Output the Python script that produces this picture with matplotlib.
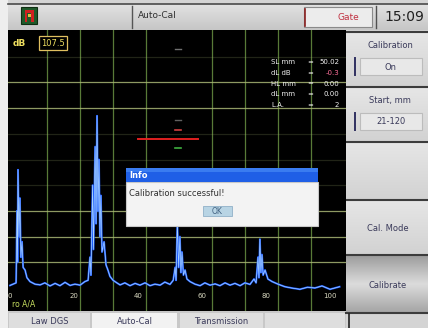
import numpy as np
import matplotlib
matplotlib.use("Agg")
import matplotlib.pyplot as plt
from matplotlib.patches import Rectangle

W, H = 428, 328

# A-scan trace: sound path (mm) and echo amplitude (% of screen height)
trace_mm = [0, 1.9, 2.2, 2.35, 2.5, 2.8, 3.1, 3.4, 3.75, 4.1, 4.7, 5.3, 6.25, 7.8,
            9.4, 10.9, 12.5, 14.1, 15.6, 17.2, 18.75, 20.3, 21.9, 23.4,
            24.4, 25.0, 25.3, 25.8, 26.1, 26.6, 26.9, 27.2, 27.5, 27.8, 28.1, 28.4,
            28.75, 29.4, 30.0, 30.6, 31.25, 32.2, 33.4, 34.4,
            35.9, 37.5, 39.1, 40.6, 42.2, 43.75, 45.3, 46.9, 48.4, 50.0, 51.0,
            51.6, 51.9, 52.3, 52.7, 53.1, 53.4, 53.75, 54.2, 54.7, 55.3, 56.25, 57.8,
            59.4, 60.9, 62.5, 64.1, 65.6, 67.2, 68.75, 70.3, 71.9, 73.4, 75.0, 76.25,
            76.9, 77.5, 77.8, 78.1, 78.4, 78.75, 79.1, 79.7, 80.6, 81.9, 83.75, 85.9,
            88.0, 90.6, 93.0, 95.3, 97.5, 100.0, 103.0]
trace_amp = [1.0, 2.0, 30, 10, 46, 20, 35, 12, 18, 8, 7, 4, 2.5, 1.5,
             1.2, 2.0, 0.8, 1.8, 0.9, 2.2, 1.0, 1.5, 1.1, 2.5,
             3, 12, 5, 40, 15, 55, 25, 67, 30, 50, 20, 36,
             14, 18, 9, 7, 4.5, 3, 2, 1.2,
             2.0, 0.9, 1.8, 1.1, 2.0, 0.9, 1.5, 1.1, 2.3, 1.4, 3,
             8, 3, 26, 8, 20, 6, 14, 5, 7, 3.5, 2.5, 1.5,
             0.9, 2.0, 1.1, 1.6, 0.9, 2.0, 1.1, 1.8, 0.9, 2.0, 1.4, 3.5,
             2, 12, 4, 19, 6, 13, 5, 7, 3.5, 2.5, 1.5, 0.5,
             0.0, -0.5, 0.3, 0.0, 0.8, -0.5, 0.5]

x_ticks = [0, 20, 40, 60, 80, 100]
x_tick_labels = ["0", "20", "40", "60", "80", "100"]

# evaluation gate and depth cursor
gate_start, gate_end, gate_level = 40.0, 58.75, 58
cursor_mm = 52.5

readout_names = ["SL mm", "dL dB", "HL mm", "dL mm", "L.A."]
readout_values = ["50.02", "-0.3", "0.00", "0.00", "2"]

gain_db = "107.5"
clock = "15:09"
mode_title = "Auto-Cal"
status_box = "Gate"
probe_label = "ro A/A"

side_titles = ["Calibration", "Start, mm", "", "Cal. Mode", "Calibrate"]
side_values = ["On", "21-120", None, None, None]
bottom_buttons = ["Law DGS", "Auto-Cal", "Transmission", ""]

dialog_title = "Info"
dialog_message = "Calibration successful!"
dialog_button = "OK"

fig = plt.figure(figsize=(W / 100, H / 100), dpi=100)


def px_axes(x0, y0, x1, y1, **kw):
    return fig.add_axes([x0 / W, 1 - y1 / H, (x1 - x0) / W, (y1 - y0) / H], **kw)


# ---- chrome (background layer) ----
ui = px_axes(0, 0, W, H, zorder=0)
ui.set_xlim(0, W)
ui.set_ylim(H, 0)
ui.axis("off")


def rect(a, x0, y0, x1, y1, fc, ec="none", lw=0, z=1):
    a.add_patch(Rectangle((x0, y0), x1 - x0, y1 - y0, facecolor=fc,
                          edgecolor=ec, linewidth=lw, zorder=z))


def vgrad(a, x0, y0, x1, y1, top, mid, bottom, z=2):
    c = np.array([matplotlib.colors.to_rgb(top), matplotlib.colors.to_rgb(mid),
                  matplotlib.colors.to_rgb(bottom)])
    t = np.linspace(0, 1, 64)
    img = np.stack([np.interp(t, [0, 0.5, 1], c[:, j]) for j in range(3)], axis=-1)
    a.imshow(img[:, None, :], extent=(x0, x1, y1, y0), aspect="auto",
             interpolation="bilinear", zorder=z)


rect(ui, 0, 0, W, H, "#d4d4d4")
rect(ui, 0, 0, 8, H, "#eeeeee")
# top bar
vgrad(ui, 8, 4, W, 30, "#e2e2e2", "#d4d4d4", "#c6c6c6", z=1)
ui.plot([8, W], [3.5, 3.5], color="#4a4a4a", lw=1.2, zorder=2)
rect(ui, 21, 7, 37, 24, "#1f5a2a", ec="#0e2e12", lw=0.8, z=3)
rect(ui, 25, 10, 34, 13, "#d02020", z=4)
rect(ui, 25, 10, 27.5, 22, "#d02020", z=4)
rect(ui, 31.5, 10, 34, 22, "#d02020", z=4)
rect(ui, 28, 14, 31, 17, "#e0c040", z=4)
ui.plot([132, 132], [6, 28], color="#555555", lw=1.0, zorder=3)
ui.text(138, 16, mode_title, fontsize=6.5, color="#303030", va="center", zorder=4)
rect(ui, 304, 7, 372, 27, "#ececec", ec="#8a8a8a", lw=0.8, z=3)
ui.plot([305, 305], [9, 26], color="#8a2020", lw=1.2, zorder=4)
ui.text(348, 17, status_box, fontsize=6.5, color="#c03040", ha="center", va="center", zorder=4)
ui.plot([376, 376], [6, 28], color="#505050", lw=1.0, zorder=3)
ui.text(404, 17, clock, fontsize=10, color="#202020", ha="center", va="center", zorder=4)

# right soft-key panel
btn_edges = [32, 87, 142, 200, 255, 313]
for i, (t, v) in enumerate(zip(side_titles, side_values)):
    y0, y1 = btn_edges[i], btn_edges[i + 1]
    if i == 4:
        vgrad(ui, 346, y0, W, y1, "#9c9c9c", "#dcdcdc", "#a4a4a4", z=2)
    else:
        vgrad(ui, 346, y0, W, y1, "#e6e6e6", "#dcdcdc", "#d2d2d2", z=2)
    ui.plot([346, W], [y0, y0], color="#3c3c3c", lw=1.5, zorder=3)
    if v is None:
        ui.text(388, (y0 + y1) / 2 + 1, t, fontsize=6, color="#3a3a5a",
                ha="center", va="center", zorder=4)
    else:
        ui.text(390, y0 + 13, t, fontsize=6, color="#3a3a5a",
                ha="center", va="center", zorder=4)
        rect(ui, 360, y0 + 26, 422, y0 + 43, "#e8e8e8", ec="#bcbcbc", lw=0.8, z=3)
        ui.plot([355, 355], [y0 + 26, y0 + 43], color="#303060", lw=1.4, zorder=4)
        ui.text(391, y0 + 35, v, fontsize=6, color="#3a3a5a",
                ha="center", va="center", zorder=4)
ui.plot([346, W], [313, 313], color="#3c3c3c", lw=1.5, zorder=3)
ui.plot([349, 349], [314, H], color="#202020", lw=1.2, zorder=3)
ui.set_xlim(0, W)
ui.set_ylim(H, 0)

# bottom soft-key bar
rect(ui, 8, 311, 346, H, "#c8c8c8", z=2)
bottom_x = [(9, 90), (92, 177), (180, 263), (265, 345)]
for (x0, x1), label in zip(bottom_x, bottom_buttons):
    rect(ui, x0, 313, x1, H, "#f2f2f2" if label == "Auto-Cal" else "#dedede", z=3)
    ui.text((x0 + x1) / 2, 321, label, fontsize=6, color="#3a3a5a",
            ha="center", va="center", zorder=4)

# ---- A-scan display ----
ax = px_axes(8, 30, 346, 311, zorder=1)
ax.set_facecolor("black")
px_per_mm, px_zero = 3.2, 10
ax.set_xlim((8 - px_zero) / px_per_mm, (346 - px_zero) / px_per_mm)
px_per_pct, py_zero = 2.57, 288
ax.set_ylim((py_zero - 311) / px_per_pct, (py_zero - 30) / px_per_pct)
for s in ax.spines.values():
    s.set_visible(False)
ax.set_xticks([])
ax.set_yticks([])

for k in range(1, 10):
    if k == 5:
        continue
    xg = (14 + 33 * k - px_zero) / px_per_mm
    ax.axvline(xg, color="#6f9a45", lw=0.9, alpha=0.8, zorder=1)
for lvl in range(10, 100, 10):
    bright = lvl in (10, 20, 30, 70, 80)
    ax.axhline(lvl, color="#a8b574", lw=0.9, alpha=0.85 if bright else 0.2, zorder=1)

ax.plot(trace_mm, trace_amp, color="#1e5cff", lw=1.4, zorder=3)
ax.plot(trace_mm, trace_amp, color="#a8d4ff", lw=0.5, zorder=4)

# gate and cursor
ax.plot([gate_start, gate_end], [gate_level, gate_level], color="#e02020", lw=1.4, zorder=5)
ax.plot([cursor_mm - 0.9, cursor_mm + 0.9], [gate_level + 3.5, gate_level + 3.5],
        color="#d04040", lw=1.2, zorder=5)
ax.plot([cursor_mm - 0.9, cursor_mm + 0.9], [gate_level - 3.5, gate_level - 3.5],
        color="#40b040", lw=1.2, zorder=5)
ax.plot([cursor_mm - 0.9, cursor_mm + 0.9], [gate_level + 7.5, gate_level + 7.5],
        color="#606060", lw=1.0, zorder=5)
ax.plot([cursor_mm - 0.9, cursor_mm + 0.9], [93, 93], color="#707070", lw=1.0, zorder=5)

for xv, lab in zip(x_ticks, x_tick_labels):
    ax.text(xv, (py_zero - 296) / px_per_pct, lab, fontsize=5, color="#d8d8c0",
            ha="center", va="center", zorder=6)

# readouts
for i, (n, v) in enumerate(zip(readout_names, readout_values)):
    yv = (py_zero - (62 + 10.8 * i)) / px_per_pct
    ax.text((271 - px_zero) / px_per_mm, yv, n, fontsize=5, color="#f0f0f0",
            va="center", zorder=6)
    ax.text((307 - px_zero) / px_per_mm, yv, "=", fontsize=5, color="#f0f0f0",
            va="center", zorder=6)
    ax.text((339 - px_zero) / px_per_mm, yv, v, fontsize=5,
            color="#ff6f9a" if i == 1 else "#f0f0f0", ha="right", va="center", zorder=6)

ax.text((13 - px_zero) / px_per_mm, (py_zero - 43) / px_per_pct, "dB", fontsize=6.5,
        color="#f0e060", va="center", fontweight="bold", zorder=6)
ax.text((41 - px_zero) / px_per_mm, (py_zero - 43) / px_per_pct, gain_db, fontsize=6,
        color="#f0e060", va="center", zorder=6,
        bbox=dict(boxstyle="square,pad=0.25", fc="black", ec="#e0c060", lw=0.9))
ax.text((12 - px_zero) / px_per_mm, (py_zero - 304) / px_per_pct, probe_label,
        fontsize=5.5, color="#c8e060", va="center", zorder=6)

# ---- message dialog (top layer) ----
dl = px_axes(0, 0, W, H, zorder=3)
dl.set_xlim(0, W)
dl.set_ylim(H, 0)
dl.axis("off")
dl.patch.set_alpha(0)
rect(dl, 126, 182, 318, 226, "#f3f3f3", ec="#c8c8c8", lw=0.8, z=2)
rect(dl, 126, 168, 318, 182, "#1f5fe6", z=2)
rect(dl, 126, 168, 318, 172, "#3a7cf0", z=2)
dl.text(129, 175.5, dialog_title, fontsize=6, color="white", fontweight="bold",
        va="center", zorder=3)
dl.text(129, 193, dialog_message, fontsize=6, color="#303030", va="center", zorder=3)
rect(dl, 203, 206, 232, 216, "#b8d4e4", ec="#90b0c8", lw=0.6, z=2)
dl.text(217.5, 211, dialog_button, fontsize=5.5, color="#406080",
        ha="center", va="center", zorder=3)

fig.savefig("out.png", dpi=100)
